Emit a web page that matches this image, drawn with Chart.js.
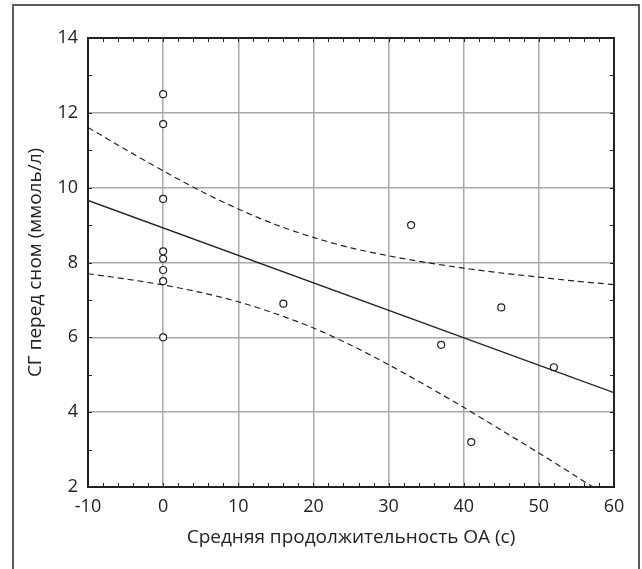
<!DOCTYPE html>
<html lang="ru">
<head>
<meta charset="UTF-8">
<title>СГ перед сном</title>
<script src="https://cdn.jsdelivr.net/npm/chart.js@4.4.0/dist/chart.umd.min.js"></script>
<style>
  body { margin: 0; background: #fff; }
</style>
</head>
<body>
<canvas id="chart" width="642" height="569"></canvas>
<script>
// tick labels
const xTicks = [-10, 0, 10, 20, 30, 40, 50, 60];
const yTicks = [2, 4, 6, 8, 10, 12, 14];
const xMinorStep = 2;
const yMinorStep = 1;

// observations
const pointX = [0, 0, 0, 0, 0, 0, 0, 0, 16, 33, 37, 41, 45, 52];
const pointY = [12.5, 11.7, 9.7, 8.3, 8.1, 7.8, 7.5, 6.0, 6.9, 9.0, 5.8, 3.2, 6.8, 5.2];

// regression line
const fitX = [-10, 60];
const fitY = [9.66, 4.52];

// confidence band (dashed)
const bandX = [-10, -5, 0, 5, 10, 15, 20, 25, 30, 35, 40, 45, 50, 55, 60];
const upperY = [11.61, 11.02, 10.45, 9.91, 9.43, 9.01, 8.67, 8.39, 8.18, 8.00, 7.85, 7.72, 7.61, 7.50, 7.41];
const lowerY = [7.70, 7.56, 7.40, 7.20, 6.95, 6.63, 6.25, 5.79, 5.27, 4.71, 4.13, 3.52, 2.91, 2.28, 1.64];

const FONT = "'Open Sans', 'Noto Sans', sans-serif";

function pairs(xs, ys) {
    return xs.map((v, i) => ({ x: v, y: ys[i] }));
}

const boxPlugin = {
    id: 'box',
    beforeDraw(chart) {
        const ctx = chart.ctx;
        ctx.save();
        ctx.strokeStyle = '#5a5a5a';
        ctx.lineWidth = 2;
        ctx.beginPath();
        ctx.moveTo(13, 569);
        ctx.lineTo(13, 5);
        ctx.lineTo(639, 5);
        ctx.lineTo(639, 569);
        ctx.stroke();
        ctx.restore();
    },
    afterDraw(chart) {
        const { ctx, chartArea: a, scales: { x, y } } = chart;
        ctx.save();
        ctx.strokeStyle = '#222';
        ctx.lineWidth = 1;
        ctx.beginPath();
        for (let v = x.min; v <= x.max; v += xMinorStep) {
            const px = Math.round(x.getPixelForValue(v)) + 0.5;
            ctx.moveTo(px, a.bottom); ctx.lineTo(px, a.bottom - 4);
            ctx.moveTo(px, a.top); ctx.lineTo(px, a.top + 4);
        }
        for (let v = y.min; v <= y.max; v += yMinorStep) {
            const py = Math.round(y.getPixelForValue(v)) + 0.5;
            ctx.moveTo(a.left, py); ctx.lineTo(a.left + 4, py);
            ctx.moveTo(a.right, py); ctx.lineTo(a.right - 4, py);
        }
        ctx.stroke();
        ctx.lineWidth = 2;
        ctx.strokeRect(a.left, a.top, a.right - a.left, a.bottom - a.top);
        ctx.restore();
    }
};

const ctx = document.getElementById('chart').getContext('2d');
const myChart = new Chart(ctx, {
    type: 'scatter',
    data: {
        datasets: [
            {
                label: 'верхняя граница',
                type: 'line',
                data: pairs(bandX, upperY),
                borderColor: '#222',
                borderWidth: 1.2,
                borderDash: [6, 4],
                pointRadius: 0,
                tension: 0.3,
                fill: false
            },
            {
                label: 'нижняя граница',
                type: 'line',
                data: pairs(bandX, lowerY),
                borderColor: '#222',
                borderWidth: 1.2,
                borderDash: [6, 4],
                pointRadius: 0,
                tension: 0.3,
                fill: false
            },
            {
                label: 'регрессия',
                type: 'line',
                data: pairs(fitX, fitY),
                borderColor: '#222',
                borderWidth: 1.4,
                pointRadius: 0,
                fill: false
            },
            {
                label: 'СГ',
                data: pairs(pointX, pointY),
                pointStyle: 'circle',
                pointRadius: 3.5,
                borderWidth: 1.2,
                borderColor: '#222',
                backgroundColor: '#fff'
            }
        ]
    },
    options: {
        responsive: false,
        animation: false,
        layout: { padding: { left: 0, top: 38, right: 28, bottom: 0 } },
        plugins: {
            legend: { display: false },
            tooltip: { enabled: false }
        },
        scales: {
            x: {
                type: 'linear',
                min: -10,
                max: 60,
                afterBuildTicks: s => { s.ticks = xTicks.map(v => ({ value: v })); },
                afterFit: s => { s.height = 82; },
                grid: { color: '#a8a8a8', lineWidth: 1.5, drawTicks: false },
                border: { display: false },
                ticks: { color: '#222', font: { family: FONT, size: 18 }, padding: 9, maxRotation: 0 },
                title: {
                    display: true,
                    text: 'Средняя продолжительность ОА (с)',
                    color: '#222',
                    font: { family: FONT, size: 19 },
                    padding: { top: 0, bottom: 20 }
                }
            },
            y: {
                type: 'linear',
                min: 2,
                max: 14,
                afterBuildTicks: s => { s.ticks = yTicks.map(v => ({ value: v })); },
                afterFit: s => { s.width = 88; },
                grid: { color: '#a8a8a8', lineWidth: 1.5, drawTicks: false },
                border: { display: false },
                ticks: { color: '#222', font: { family: FONT, size: 18 }, padding: 10 },
                title: {
                    display: true,
                    text: 'СГ перед сном (ммоль/л)',
                    color: '#222',
                    font: { family: FONT, size: 19 },
                    padding: { top: 24, bottom: 0 }
                }
            }
        }
    },
    plugins: [boxPlugin]
});
</script>
</body>
</html>
